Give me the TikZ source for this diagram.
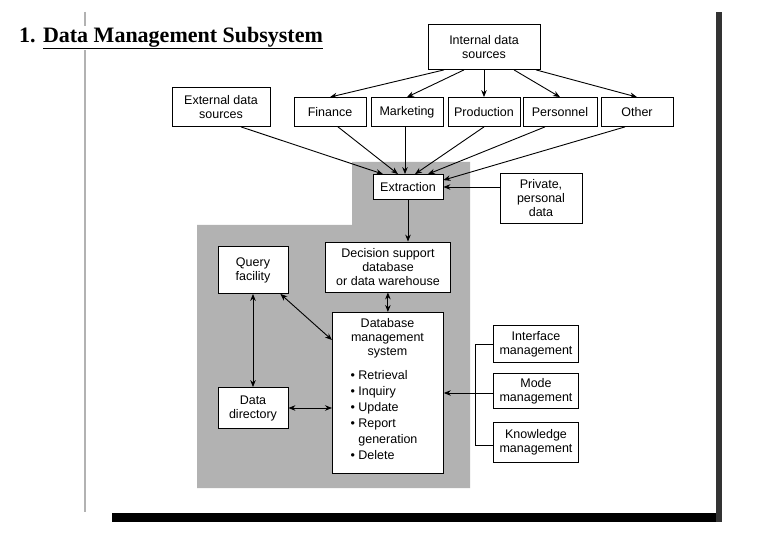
\documentclass[tikz,border=0pt]{standalone}
\usepackage{fontspec}
\setmainfont{Liberation Sans}
\newfontfamily\titlefont{Liberation Serif}
\usetikzlibrary{arrows.meta}
\begin{document}
\begin{tikzpicture}[x=1pt,y=-1pt,
  bx/.style={draw,fill=white,line width=0.8pt,align=center,font=\fontsize{12.5}{14}\selectfont,inner sep=1pt},
  ar/.style={-{Stealth[length=7pt,width=5.5pt]},line width=0.9pt},
  dar/.style={{Stealth[length=7pt,width=5.5pt]}-{Stealth[length=7pt,width=5.5pt]},line width=0.9pt}]
\useasboundingbox (0,0) rectangle (780,540);
\fill[white] (0,0) rectangle (780,540);
% page
\draw[gray!60,line width=1.2pt] (85,12) -- (85,512);
\fill[black] (112,513) rectangle (722,522);
\fill[black!80] (716,12) rectangle (722,522);
% shaded area
\fill[black!30] (352,162) -- (470,162) -- (470,488) -- (197,488) -- (197,225) -- (352,225) -- cycle;
% title
\node[anchor=west,fill=white,font=\titlefont\bfseries\fontsize{22}{24}\selectfont,inner sep=1pt] (title) at (18,38) {1. \underline{Data Management Subsystem}};
% boxes
\node[bx,minimum width=112,minimum height=45] (int) at (484,47) {Internal data\\sources};
\node[bx,minimum width=98,minimum height=39] (ext) at (221,107) {External data\\sources};
\node[bx,minimum width=72,minimum height=29] (fin) at (330,112) {Finance};
\node[bx,minimum width=72,minimum height=29] (mar) at (407,112) {Marketing};
\node[bx,minimum width=72,minimum height=29] (pro) at (484,112) {Production};
\node[bx,minimum width=74,minimum height=29] (per) at (560,112) {Personnel};
\node[bx,minimum width=72,minimum height=29] (oth) at (637,112) {Other};
\node[bx,minimum width=70,minimum height=25] (extr) at (408,187) {Extraction};
\node[bx,minimum width=82,minimum height=50] (priv) at (541,198) {Private,\\personal\\data};
\node[bx,minimum width=125,minimum height=50] (dss) at (388,267) {Decision support\\database\\or data warehouse};
\node[bx,minimum width=70,minimum height=47] (qry) at (253,270) {Query\\facility};
\node[bx,minimum width=70,minimum height=41] (dd) at (253,408) {Data\\directory};
\node[bx,minimum width=111,minimum height=161,anchor=north west,inner sep=0pt] (db) at (332,312) {};
\node[align=center,font=\fontsize{12.5}{14}\selectfont,anchor=north] (dbt) at (387.5,315) {Database\\management\\system};
\node[align=left,font=\fontsize{12.5}{16}\selectfont,anchor=north west] (dbl) at (347,367) {\textbullet\ Retrieval\\\textbullet\ Inquiry\\\textbullet\ Update\\\textbullet\ Report\\\phantom{\textbullet\ }generation\\\textbullet\ Delete};
\node[bx,minimum width=85,minimum height=37] (ifm) at (536,344) {Interface\\management};
\node[bx,minimum width=85,minimum height=35] (mod) at (536,391) {Mode\\management};
\node[bx,minimum width=85,minimum height=40] (kno) at (536,442) {Knowledge\\management};
% arrows from internal
\draw[ar] ([xshift=-40]int.south) -- (fin.north);
\draw[ar] ([xshift=-20]int.south) -- (mar.north);
\draw[ar] (int.south) -- (pro.north);
\draw[ar] ([xshift=30]int.south) -- (per.north);
\draw[ar] ([xshift=52]int.south) -- (oth.north);
% to extraction
\draw[ar] ([xshift=20]ext.south) -- ([xshift=-25]extr.north);
\draw[ar] ([xshift=8]fin.south) -- ([xshift=-10]extr.north);
\draw[ar] ([xshift=-2]mar.south) -- ([xshift=-3]extr.north);
\draw[ar] (pro.south) -- ([xshift=7]extr.north);
\draw[ar] ([xshift=-15]per.south) -- ([xshift=20]extr.north);
\draw[ar] ([xshift=-12]oth.south) -- ([yshift=-6]extr.north east);
\draw[ar] (priv.west |- extr.east) -- (extr.east);
\draw[ar] (extr.south) -- (extr.south |- dss.north);
\draw[dar] (dss.south -| db.north) -- (db.north);
\draw[dar] (qry.south) -- (dd.north);
\draw[dar] ([xshift=-8]qry.south east) -- ([yshift=-28]db.north west);
\draw[dar] (dd.east) -- (db.west |- dd.east);
% bracket
\coordinate (bt) at (475,344);
\coordinate (bm) at (475,393);
\coordinate (bb) at (475,445);
\draw[line width=0.9pt] (ifm.west |- bt) -- (bt) -- (bb) -- (kno.west |- bb);
\draw[line width=0.9pt] (bm) -- (mod.west |- bm);
\draw[ar] (bm) -- (db.east |- bm);
\end{tikzpicture}
\end{document}
